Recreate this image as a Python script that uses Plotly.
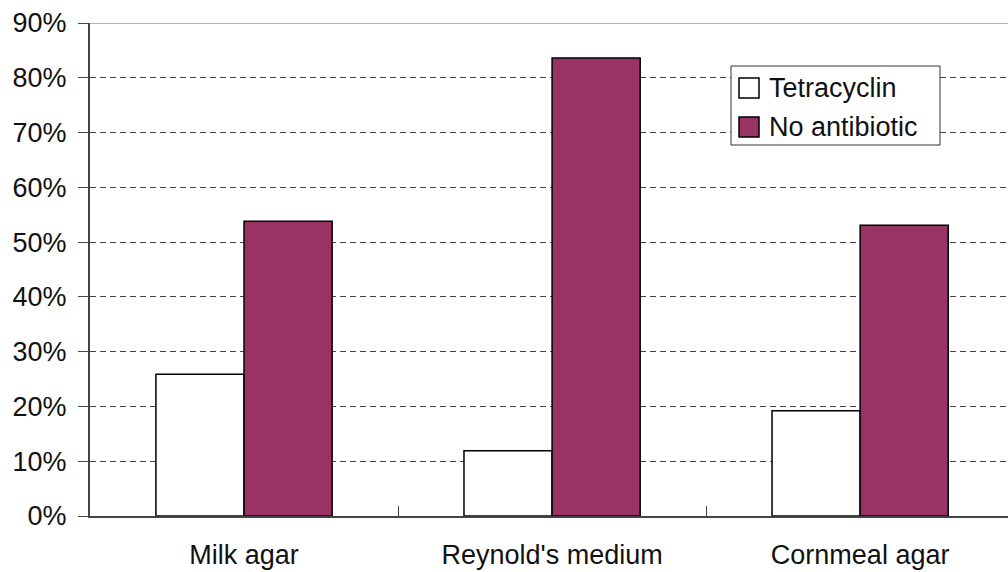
import plotly.graph_objects as go

# Percentage of growth by medium, with and without the antibiotic
media = ["Milk agar", "Reynold's medium", "Cornmeal agar"]
tetracyclin = [0.259, 0.119, 0.192]
no_antibiotic = [0.538, 0.836, 0.531]
y_ticks = [0, 0.1, 0.2, 0.3, 0.4, 0.5, 0.6, 0.7, 0.8, 0.9]

PURPLE = "#993366"
FONT = dict(family="Liberation Sans, Arial, sans-serif", size=27, color="#111111")

W, H = 1008, 572
ML, MR, MT, MB = 90, 0, 23, 56
PW, PH = W - ML - MR, H - MT - MB


def px(x):
    return (x - ML) / PW


def py(y):
    return (H - MB - y) / PH


fig = go.Figure()
fig.add_trace(go.Bar(
    x=media, y=tetracyclin, name="Tetracyclin",
    marker=dict(color="white", line=dict(color="black", width=1.5)),
    showlegend=False,
))
fig.add_trace(go.Bar(
    x=media, y=no_antibiotic, name="No antibiotic",
    marker=dict(color=PURPLE, line=dict(color="black", width=1.5)),
    showlegend=False,
))

shapes = [
    # top border of the plotting area
    dict(type="line", xref="paper", yref="y", x0=0, x1=1, y0=0.9, y1=0.9,
         line=dict(color="#999999", width=1.5), layer="below"),
    # legend box
    dict(type="rect", xref="paper", yref="paper",
         x0=px(731), x1=px(940), y0=py(145), y1=py(66),
         line=dict(color="#333333", width=1), fillcolor="white"),
    # legend swatches
    dict(type="rect", xref="paper", yref="paper",
         x0=px(739), x1=px(759), y0=py(98), y1=py(78),
         line=dict(color="black", width=1.5), fillcolor="white"),
    dict(type="rect", xref="paper", yref="paper",
         x0=px(739), x1=px(759), y0=py(137), y1=py(117),
         line=dict(color="black", width=1.5), fillcolor=PURPLE),
]

annotations = [
    dict(text="Tetracyclin", xref="paper", yref="paper", x=px(767), y=py(88),
         xanchor="left", yanchor="middle", showarrow=False, font=FONT),
    dict(text="No antibiotic", xref="paper", yref="paper", x=px(767), y=py(127),
         xanchor="left", yanchor="middle", showarrow=False, font=FONT),
]

fig.update_layout(
    width=W, height=H,
    margin=dict(l=ML, r=MR, t=MT, b=MB),
    paper_bgcolor="white", plot_bgcolor="white",
    barmode="group", bargap=0.428, bargroupgap=0,
    font=FONT,
    shapes=shapes, annotations=annotations,
    showlegend=False,
)
fig.update_xaxes(
    range=[-0.5, 2.48],
    showline=True, linecolor="#444444", linewidth=2,
    ticks="inside", tickson="boundaries", ticklen=10, tickcolor="#444444",
    showgrid=False, ticklabelstandoff=14,
)
fig.update_yaxes(
    range=[0, 0.9], tickvals=y_ticks, tickformat=".0%",
    showline=True, linecolor="#444444", linewidth=2,
    ticks="outside", ticklen=10, tickcolor="#444444",
    showgrid=True, gridcolor="#444444", gridwidth=1, griddash="6px,4px",
    zeroline=False, ticklabelstandoff=6,
)

fig.write_html("out.html")
